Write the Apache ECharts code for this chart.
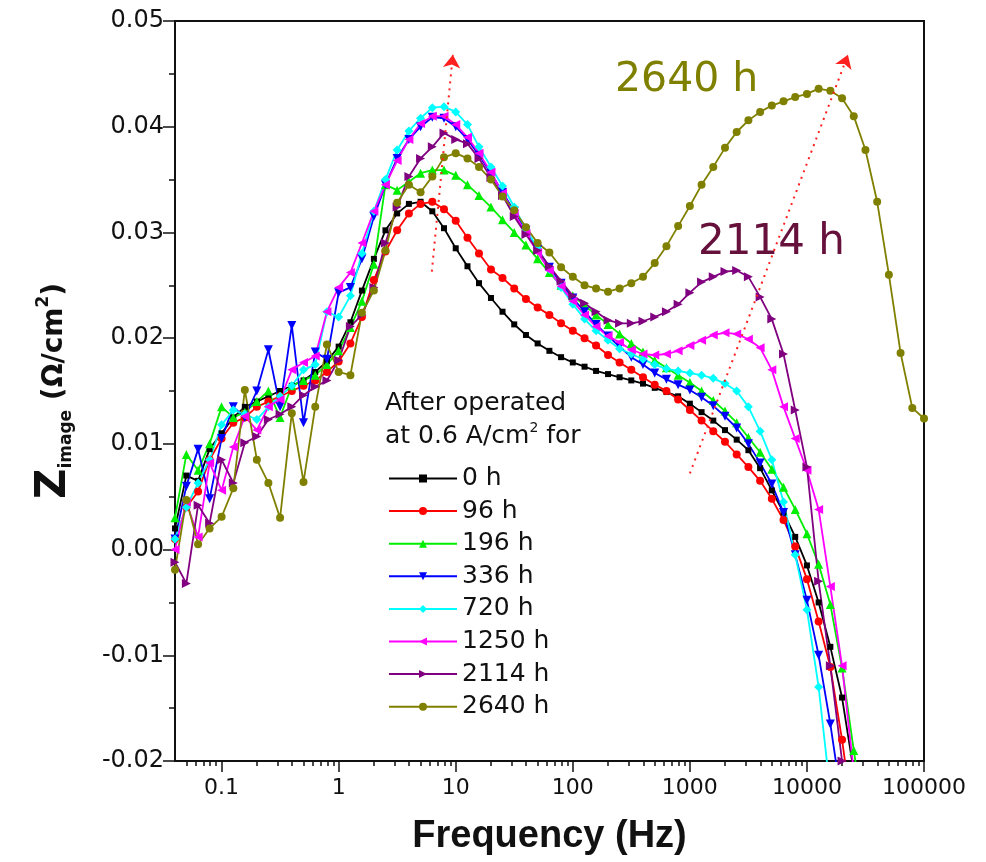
<!DOCTYPE html>
<html>
<head>
<meta charset="utf-8">
<title>Z_image vs Frequency</title>
<script src="https://cdn.jsdelivr.net/npm/echarts@6/dist/echarts.min.js"></script>
<style>
  html, body { margin: 0; padding: 0; background: #fff; }
  #chart { width: 986px; height: 862px; }
</style>
</head>
<body>
<div id="chart"></div>
<script>
// frequency points (Hz), about 10 per decade
const freq = [0.04, 0.05, 0.063, 0.079, 0.1, 0.126, 0.158, 0.2, 0.251, 0.316,
  0.398, 0.501, 0.631, 0.794, 1, 1.26, 1.58, 2, 2.51, 3.16,
  3.98, 5.01, 6.31, 7.94, 10, 12.6, 15.8, 20, 25.1, 31.6,
  39.8, 50.1, 63.1, 79.4, 100, 126, 158, 200, 251, 316,
  398, 501, 631, 794, 1000, 1259, 1585, 1995, 2512, 3162,
  3981, 5012, 6310, 7943, 10000, 12589, 15849, 19953, 25119, 31623,
  39811, 50119, 63096, 79433, 100000];

// Z_image (ohm/cm2) per operating time, same order as freq
const z0h = [0.0020, 0.0070, 0.0065, 0.0095, 0.0110, 0.0125, 0.0135, 0.0140, 0.0145, 0.0150,
  0.0155, 0.0160, 0.0168, 0.0178, 0.0192, 0.0215, 0.0245, 0.0275, 0.0302, 0.0318,
  0.0327, 0.0329, 0.0320, 0.0304, 0.0285, 0.0268, 0.0252, 0.0238, 0.0225, 0.0213,
  0.0203, 0.0195, 0.0188, 0.0182, 0.0177, 0.0173, 0.0169, 0.0166, 0.0163, 0.0160,
  0.0157, 0.0153, 0.0149, 0.0145, 0.0138, 0.0130, 0.0122, 0.0113, 0.0104, 0.0094,
  0.0077, 0.0056, 0.0035, 0.0012, -0.0015, -0.0050, -0.0092, -0.0140, -0.0210];
const z96h = [0.0010, 0.0040, 0.0055, 0.0085, 0.0105, 0.0120, 0.0125, 0.0135, 0.0140, 0.0145,
  0.0150, 0.0155, 0.0160, 0.0168, 0.0178, 0.0195, 0.0220, 0.0255, 0.0282, 0.0302,
  0.0318, 0.0327, 0.0329, 0.0322, 0.0311, 0.0295, 0.0280, 0.0265, 0.0257, 0.0247,
  0.0237, 0.0229, 0.0222, 0.0214, 0.0207, 0.0200, 0.0193, 0.0184, 0.0177, 0.0170,
  0.0163, 0.0156, 0.0150, 0.0142, 0.0132, 0.0122, 0.0112, 0.0102, 0.0090, 0.0078,
  0.0065, 0.0048, 0.0028, 0.0003, -0.0028, -0.0068, -0.0111, -0.0180, -0.0260];
const z196h = [0.0030, 0.0090, 0.0075, 0.0100, 0.0135, 0.0125, 0.0130, 0.0140, 0.0150, 0.0125,
  0.0155, 0.0160, 0.0165, 0.0175, 0.0188, 0.0210, 0.0235, 0.0270, 0.0345, 0.0340,
  0.0348, 0.0356, 0.0359, 0.0359, 0.0354, 0.0345, 0.0335, 0.0324, 0.0312, 0.0300,
  0.0288, 0.0275, 0.0262, 0.0250, 0.0240, 0.0231, 0.0222, 0.0213, 0.0204, 0.0195,
  0.0187, 0.0179, 0.0172, 0.0165, 0.0158, 0.0150, 0.0141, 0.0131, 0.0120, 0.0106,
  0.0092, 0.0076, 0.0059, 0.0038, 0.0015, -0.0014, -0.0052, -0.0112, -0.0190, -0.0260];
const z336h = [0.0010, 0.0060, 0.0095, 0.0048, 0.0105, 0.0135, 0.0125, 0.0150, 0.0189, 0.0135,
  0.0212, 0.0120, 0.0187, 0.0180, 0.0243, 0.0248, 0.0275, 0.0315, 0.0345, 0.0370,
  0.0388, 0.0400, 0.0409, 0.0408, 0.0400, 0.0388, 0.0373, 0.0356, 0.0338, 0.0320,
  0.0302, 0.0284, 0.0267, 0.0252, 0.0238, 0.0225, 0.0213, 0.0202, 0.0192, 0.0182,
  0.0175, 0.0167, 0.0161, 0.0156, 0.0151, 0.0144, 0.0136, 0.0126, 0.0115, 0.0100,
  0.0082, 0.0062, 0.0035, -0.0005, -0.0048, -0.0100, -0.0165, -0.0240];
const z720h = [0.0010, 0.0040, 0.0063, 0.0085, 0.0118, 0.0132, 0.0128, 0.0123, 0.0135, 0.0145,
  0.0155, 0.0170, 0.0175, 0.0225, 0.0220, 0.0240, 0.0280, 0.0320, 0.0350, 0.0378,
  0.0396, 0.0408, 0.0418, 0.0419, 0.0414, 0.0402, 0.0381, 0.0362, 0.0344, 0.0324,
  0.0303, 0.0285, 0.0265, 0.0248, 0.0232, 0.0218, 0.0207, 0.0198, 0.0190, 0.0185,
  0.0180, 0.0175, 0.0171, 0.0169, 0.0167, 0.0165, 0.0162, 0.0157, 0.0150, 0.0135,
  0.0112, 0.0085, 0.0045, -0.0005, -0.0057, -0.0130, -0.0230];
const z1250h = [0.0000, 0.0045, 0.0012, 0.0082, 0.0056, 0.0097, 0.0126, 0.0113, 0.0135, 0.0142,
  0.0170, 0.0177, 0.0183, 0.0225, 0.0248, 0.0262, 0.0290, 0.0320, 0.0345, 0.0368,
  0.0388, 0.0403, 0.0410, 0.0410, 0.0402, 0.0390, 0.0375, 0.0357, 0.0337, 0.0318,
  0.0299, 0.0281, 0.0264, 0.0249, 0.0235, 0.0222, 0.0211, 0.0202, 0.0196, 0.0189,
  0.0185, 0.0184, 0.0185, 0.0188, 0.0193, 0.0198, 0.0203, 0.0205, 0.0204, 0.0199,
  0.0191, 0.0170, 0.0135, 0.0105, 0.0075, 0.0038, -0.0035, -0.0110, -0.0210];
const z2114h = [-0.0012, -0.0032, 0.0042, 0.0025, 0.0085, 0.0063, 0.0101, 0.0107, 0.0123, 0.0128,
  0.0135, 0.0146, 0.0154, 0.0160, 0.0179, 0.0211, 0.0222, 0.0248, 0.0290, 0.0324,
  0.0353, 0.0370, 0.0381, 0.0394, 0.0388, 0.0384, 0.0370, 0.0352, 0.0335, 0.0315,
  0.0298, 0.0283, 0.0268, 0.0254, 0.0240, 0.0233, 0.0225, 0.0217, 0.0214, 0.0214,
  0.0216, 0.0220, 0.0225, 0.0232, 0.0243, 0.0253, 0.0258, 0.0263, 0.0264, 0.0258,
  0.0239, 0.0218, 0.0185, 0.0132, 0.0078, -0.0030, -0.0110, -0.0200, -0.0280];
const z2640h = [-0.0019, 0.0047, 0.0005, 0.0020, 0.0031, 0.0058, 0.0151, 0.0085, 0.0063, 0.0030,
  0.0129, 0.0064, 0.0135, 0.0194, 0.0168, 0.0165, 0.0224, 0.0245, 0.0283, 0.0328,
  0.0345, 0.0338, 0.0353, 0.0371, 0.0375, 0.0370, 0.0362, 0.0350, 0.0334, 0.0321,
  0.0305, 0.0290, 0.0281, 0.0267, 0.0258, 0.0250, 0.0247, 0.0244, 0.0247, 0.0252,
  0.0258, 0.0271, 0.0287, 0.0306, 0.0325, 0.0345, 0.0362, 0.0380, 0.0395, 0.0406,
  0.0414, 0.0420, 0.0424, 0.0428, 0.0431, 0.0436, 0.0434, 0.0427, 0.0410, 0.0378,
  0.0329, 0.0260, 0.0186, 0.0134, 0.0124];

const seriesNames = ["0 h", "96 h", "196 h", "336 h", "720 h", "1250 h", "2114 h", "2640 h"];
const seriesValues = [z0h, z96h, z196h, z336h, z720h, z1250h, z2114h, z2640h];

// axis ticks
const yTicks = [-0.02, -0.01, 0.00, 0.01, 0.02, 0.03, 0.04, 0.05];
const xMinorTicks = [0.05, 0.06, 0.07, 0.08, 0.09, 0.2, 0.3, 0.4, 0.5, 0.6, 0.7, 0.8, 0.9,
  2, 3, 4, 5, 6, 7, 8, 9, 20, 30, 40, 50, 60, 70, 80, 90,
  200, 300, 400, 500, 600, 700, 800, 900, 2000, 3000, 4000, 5000, 6000, 7000, 8000, 9000,
  20000, 30000, 40000, 50000, 60000, 70000, 80000, 90000];

// red dotted guide arrows [start, end] as [Hz, Z]
const arrowLines = [
  [[6.25, 0.0263], [9.45, 0.0468]],
  [[1000, 0.0072], [22400, 0.0468]]
];

// style per series
const styles = [
  { color: "#000000", symbol: "rect", size: 6, rotate: 0 },
  { color: "#ff0000", symbol: "circle", size: 8, rotate: 0 },
  { color: "#00ee00", symbol: "triangle", size: 9, rotate: 0 },
  { color: "#0000ff", symbol: "triangle", size: 9, rotate: 180 },
  { color: "#00ffff", symbol: "diamond", size: 9, rotate: 0 },
  { color: "#ff00ff", symbol: "triangle", size: 9, rotate: 90 },
  { color: "#800080", symbol: "triangle", size: 9, rotate: -90 },
  { color: "#808000", symbol: "circle", size: 8, rotate: 0 }
];

const FONT = "DejaVu Sans";

const chart = echarts.init(document.getElementById("chart"));

const series = seriesNames.map((name, i) => ({
  name: name,
  type: "line",
  xAxisIndex: 0,
  yAxisIndex: 0,
  data: seriesValues[i].map((v, k) => [freq[k], v]),
  symbol: styles[i].symbol,
  symbolSize: styles[i].size,
  symbolRotate: styles[i].rotate,
  showAllSymbol: true,
  clip: true,
  itemStyle: { color: styles[i].color },
  lineStyle: { color: styles[i].color, width: 1.8 },
  emphasis: { disabled: true }
}));

// guide arrows on the last series
series[series.length - 1].markLine = {
  silent: true,
  symbol: ["none", "arrow"],
  symbolSize: 13,
  label: { show: false },
  lineStyle: { color: "#ff2020", type: [2, 5], width: 2 },
  emphasis: { disabled: true },
  data: arrowLines.map((pair) => [{ coord: pair[0] }, { coord: pair[1] }])
};

const option = {
  animation: false,
  backgroundColor: "#fff",
  textStyle: { fontFamily: FONT },
  grid: {
    left: 175,
    right: 62,
    top: 21,
    bottom: 101,
    show: true,
    borderColor: "#111",
    borderWidth: 2,
    backgroundColor: "transparent"
  },
  legend: {
    orient: "vertical",
    left: 383,
    top: 461,
    itemWidth: 68,
    itemHeight: 10,
    itemGap: 7.6,
    selectedMode: false,
    textStyle: { fontFamily: FONT, fontSize: 25, color: "#111" },
    data: seriesNames
  },
  xAxis: [
    {
      type: "log",
      logBase: 10,
      min: 0.04,
      max: 100000,
      position: "bottom",
      name: "Frequency (Hz)",
      nameLocation: "middle",
      nameGap: 57,
      nameTextStyle: {
        fontFamily: "Liberation Sans",
        fontWeight: "bold",
        fontSize: 38,
        color: "#111"
      },
      axisLine: { show: true, onZero: false, lineStyle: { color: "#111", width: 2 } },
      axisTick: { show: true, inside: false, length: 11, lineStyle: { color: "#111", width: 1.5 } },
      axisLabel: {
        showMinLabel: false,
        margin: 16,
        fontFamily: FONT,
        fontSize: 22,
        color: "#111",
        formatter: (v) => String(Number(v.toPrecision(6)))
      },
      splitLine: { show: false }
    },
    {
      type: "log",
      logBase: 10,
      min: 0.04,
      max: 100000,
      position: "bottom",
      axisLine: { show: false, onZero: false },
      axisLabel: { show: false },
      axisTick: {
        show: true,
        inside: false,
        length: 5,
        customValues: xMinorTicks,
        lineStyle: { color: "#111", width: 1.5 }
      },
      splitLine: { show: false }
    }
  ],
  yAxis: {
    type: "value",
    min: yTicks[0],
    max: yTicks[yTicks.length - 1],
    interval: 0.01,
    name: "{z|Z}{s|image}{u| (Ω/cm}{p|2}{u|)}",
    nameLocation: "middle",
    nameRotate: 90,
    nameGap: 100,
    nameTextStyle: {
      color: "#111",
      rich: {
        z: { fontFamily: FONT, fontWeight: "bold", fontSize: 42, lineHeight: 42, padding: [0, 0, 10, 0], verticalAlign: "top", color: "#111" },
        s: { fontFamily: FONT, fontWeight: "bold", fontSize: 17, lineHeight: 17, verticalAlign: "bottom", color: "#111" },
        u: { fontFamily: FONT, fontWeight: "bold", fontSize: 28, lineHeight: 28, padding: [8, 0, 0, 0], verticalAlign: "top", color: "#111" },
        p: { fontFamily: FONT, fontWeight: "bold", fontSize: 17, lineHeight: 17, padding: [2, 0, 0, 0], verticalAlign: "top", color: "#111" }
      }
    },
    axisLine: { show: true, onZero: false, lineStyle: { color: "#111", width: 2 } },
    axisTick: { show: true, inside: false, length: 12, lineStyle: { color: "#111", width: 1.5 } },
    minorTick: { show: true, splitNumber: 2, length: 6, lineStyle: { color: "#111", width: 1.5 } },
    axisLabel: {
      margin: 11,
      fontFamily: FONT,
      fontSize: 24,
      color: "#111",
      formatter: (v) => v.toFixed(2)
    },
    splitLine: { show: false }
  },
  graphic: [
    {
      type: "text",
      left: 615,
      top: 60,
      style: { text: "2640 h", fontFamily: FONT, fontSize: 41, fill: "#808000" }
    },
    {
      type: "text",
      left: 698,
      top: 222,
      style: { text: "2114 h", fontFamily: FONT, fontSize: 42, fill: "#66103c" }
    },
    {
      type: "text",
      left: 385,
      top: 391,
      style: { text: "After operated", fontFamily: FONT, fontSize: 25, fill: "#111" }
    },
    {
      type: "text",
      left: 385,
      top: 421,
      style: {
        text: "{t|at 0.6 A/cm}{p|2}{t| for}",
        fill: "#111",
        rich: {
          t: { fontFamily: FONT, fontSize: 25, lineHeight: 28, verticalAlign: "bottom" },
          p: { fontFamily: FONT, fontSize: 14, lineHeight: 28, verticalAlign: "top" }
        }
      }
    }
  ],
  series: series
};

chart.setOption(option);
</script>
</body>
</html>
